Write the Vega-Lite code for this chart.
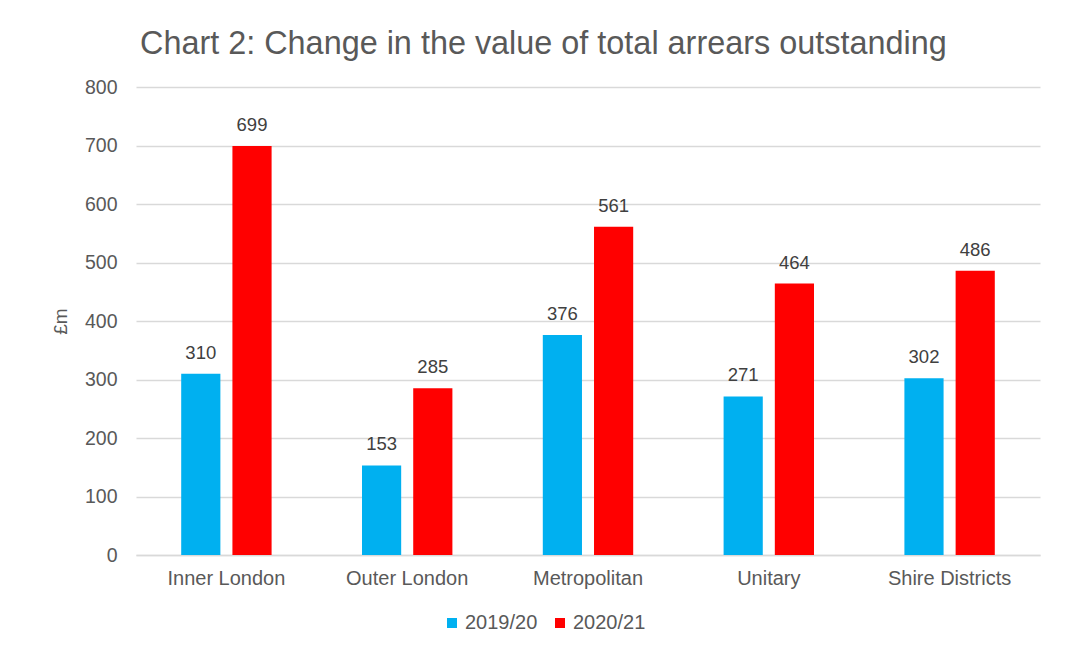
{
  "$schema": "https://vega.github.io/schema/vega-lite/v6.json",
  "width": 904,
  "height": 468,
  "autosize": {"type": "none"},
  "padding": {"left": 136, "top": 87, "right": 28, "bottom": 100},
  "background": "white",
  "title": {
    "text": "Chart 2: Change in the value of total arrears outstanding",
    "anchor": "start",
    "frame": "group",
    "dx": 4,
    "offset": 17,
    "font": "Liberation Sans",
    "fontSize": 32.4,
    "fontWeight": "normal",
    "color": "#595959"
  },
  "data": {
    "values": [
      {"region": "Inner London", "year": "2019/20", "value": 310},
      {"region": "Inner London", "year": "2020/21", "value": 699},
      {"region": "Outer London", "year": "2019/20", "value": 153},
      {"region": "Outer London", "year": "2020/21", "value": 285},
      {"region": "Metropolitan", "year": "2019/20", "value": 376},
      {"region": "Metropolitan", "year": "2020/21", "value": 561},
      {"region": "Unitary", "year": "2019/20", "value": 271},
      {"region": "Unitary", "year": "2020/21", "value": 464},
      {"region": "Shire Districts", "year": "2019/20", "value": 302},
      {"region": "Shire Districts", "year": "2020/21", "value": 486}
    ]
  },
  "encoding": {
    "x": {
      "field": "region",
      "type": "nominal",
      "sort": null,
      "scale": {"paddingInner": 0.5, "paddingOuter": 0.25},
      "axis": {
        "title": null,
        "labelAngle": 0,
        "labelFont": "Liberation Sans",
        "labelFontSize": 20,
        "labelColor": "#595959",
        "labelPadding": 13,
        "ticks": false,
        "domain": true,
        "domainColor": "#d9d9d9",
        "domainWidth": 1.5
      }
    },
    "xOffset": {"field": "year", "type": "nominal", "scale": {"paddingInner": 0.235}},
    "y": {
      "field": "value",
      "type": "quantitative",
      "scale": {"domain": [0, 800]},
      "axis": {
        "title": "£m",
        "titleFont": "Liberation Sans",
        "titleFontSize": 19,
        "titleFontWeight": "normal",
        "titleColor": "#595959",
        "titlePadding": 14,
        "values": [0, 100, 200, 300, 400, 500, 600, 700, 800],
        "labelFont": "Liberation Sans",
        "labelFontSize": 19.5,
        "labelColor": "#595959",
        "labelPadding": 19,
        "ticks": false,
        "domain": false,
        "grid": true,
        "gridColor": "#d9d9d9",
        "gridWidth": 1.5
      }
    }
  },
  "layer": [
    {
      "mark": {"type": "bar"},
      "encoding": {
        "color": {
          "field": "year",
          "type": "nominal",
          "scale": {"domain": ["2019/20", "2020/21"], "range": ["#00B0F0", "#FF0000"]},
          "legend": {
            "title": null,
            "orient": "none",
            "direction": "horizontal",
            "legendX": 306,
            "legendY": 526,
            "symbolType": "square",
            "symbolSize": 100,
            "symbolStrokeWidth": 0,
            "labelFont": "Liberation Sans",
            "labelFontSize": 20,
            "labelColor": "#595959",
            "labelOffset": 3,
            "columnPadding": 12
          }
        }
      }
    },
    {
      "mark": {
        "type": "text",
        "baseline": "bottom",
        "dy": -11,
        "font": "Liberation Sans",
        "fontSize": 18.5,
        "color": "#404040"
      },
      "encoding": {
        "text": {"field": "value", "type": "quantitative"}
      }
    }
  ],
  "config": {"view": {"stroke": null}}
}
